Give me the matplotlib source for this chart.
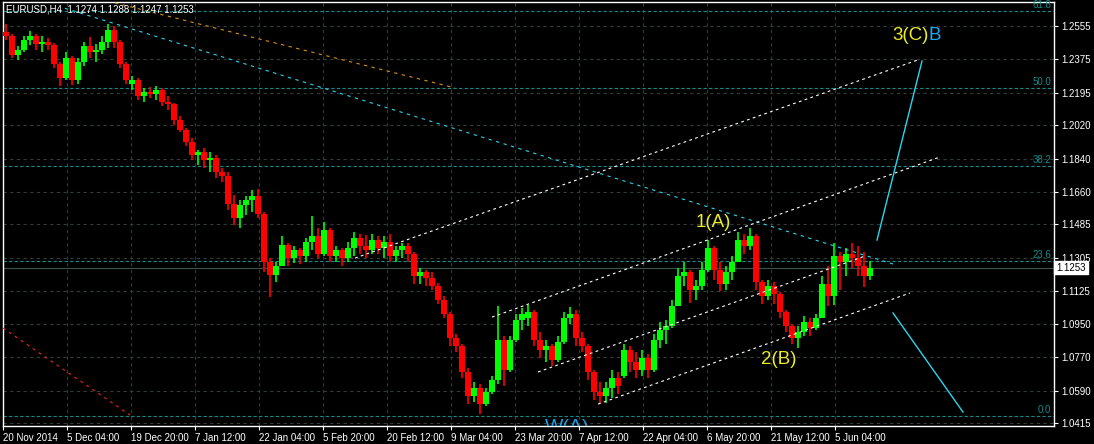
import numpy as np
import matplotlib.pyplot as plt
from matplotlib import transforms

plt.rcParams['font.family'] = ['Liberation Sans', 'DejaVu Sans']

# EURUSD, candles (one candle per ~6 bars)
opens = [1.2523, 1.2501, 1.2399, 1.2426, 1.2479, 1.2501, 1.2458, 1.2469, 1.2452, 1.2350,
         1.2275, 1.2382, 1.2264, 1.2361, 1.2447, 1.2415, 1.2426, 1.2469, 1.2533, 1.2469,
         1.2350, 1.2242, 1.2264, 1.2178, 1.2199, 1.2188, 1.2210, 1.2145, 1.2134, 1.2048,
         1.1994, 1.1930, 1.1860, 1.1876, 1.1833, 1.1843, 1.1768, 1.1746, 1.1595, 1.1520,
         1.1590, 1.1617, 1.1639, 1.1542, 1.1283, 1.1213, 1.1261, 1.1374, 1.1304, 1.1348,
         1.1315, 1.1391, 1.1423, 1.1326, 1.1455, 1.1315, 1.1348, 1.1304, 1.1358, 1.1412,
         1.1369, 1.1348, 1.1401, 1.1358, 1.1391, 1.1315, 1.1348, 1.1369, 1.1326, 1.1207,
         1.1229, 1.1197, 1.1153, 1.1078, 1.1003, 1.0873, 1.0830, 1.0690, 1.0561, 1.0604,
         1.0517, 1.0582, 1.0647, 1.0862, 1.0701, 1.0862, 1.0970, 1.0981, 1.1013, 1.0862,
         1.0809, 1.0830, 1.0755, 1.0852, 1.0981, 1.1003, 1.0873, 1.0830, 1.0690, 1.0582,
         1.0561, 1.0604, 1.0658, 1.0668, 1.0809, 1.0744, 1.0701, 1.0765, 1.0701, 1.0862,
         1.0916, 1.0938, 1.1046, 1.1207, 1.1229, 1.1132, 1.1153, 1.1240, 1.1358, 1.1240,
         1.1164, 1.1229, 1.1283, 1.1401, 1.1369, 1.1423, 1.1175, 1.1100, 1.1153, 1.1110,
         1.1013, 1.0938, 1.0873, 1.0906, 1.0959, 1.0927, 1.0981, 1.1164, 1.1100, 1.1315,
         1.1283, 1.1326, 1.1304, 1.1261, 1.1207]
highs = [1.2566, 1.2512, 1.2447, 1.2501, 1.2528, 1.2512, 1.2501, 1.2490, 1.2463, 1.2361,
         1.2415, 1.2393, 1.2382, 1.2469, 1.2496, 1.2458, 1.2501, 1.2566, 1.2555, 1.2479,
         1.2361, 1.2285, 1.2275, 1.2221, 1.2226, 1.2231, 1.2221, 1.2178, 1.2140, 1.2070,
         1.2005, 1.1951, 1.1887, 1.1897, 1.1876, 1.1860, 1.1789, 1.1768, 1.1644, 1.1617,
         1.1639, 1.1671, 1.1676, 1.1552, 1.1304, 1.1283, 1.1423, 1.1385, 1.1369, 1.1358,
         1.1412, 1.1531, 1.1466, 1.1498, 1.1466, 1.1369, 1.1358, 1.1391, 1.1445, 1.1434,
         1.1428, 1.1434, 1.1423, 1.1423, 1.1434, 1.1369, 1.1385, 1.1385, 1.1337, 1.1250,
         1.1240, 1.1229, 1.1170, 1.1100, 1.1013, 1.0895, 1.0841, 1.0711, 1.0636, 1.0625,
         1.0604, 1.0668, 1.1046, 1.0884, 1.0884, 1.1003, 1.1035, 1.1051, 1.1024, 1.0906,
         1.0862, 1.0841, 1.0884, 1.1013, 1.1040, 1.1024, 1.0906, 1.0841, 1.0701, 1.0636,
         1.0636, 1.0701, 1.0690, 1.0841, 1.0830, 1.0798, 1.0809, 1.0787, 1.0895, 1.0959,
         1.0970, 1.1078, 1.1250, 1.1283, 1.1240, 1.1186, 1.1283, 1.1401, 1.1369, 1.1283,
         1.1261, 1.1315, 1.1445, 1.1434, 1.1466, 1.1434, 1.1186, 1.1186, 1.1175, 1.1121,
         1.1024, 1.0949, 1.0938, 1.0992, 1.0981, 1.1003, 1.1207, 1.1261, 1.1385, 1.1337,
         1.1358, 1.1385, 1.1369, 1.1337, 1.1288]
lows = [1.2479, 1.2382, 1.2372, 1.2415, 1.2452, 1.2426, 1.2415, 1.2426, 1.2328, 1.2231,
        1.2264, 1.2237, 1.2242, 1.2339, 1.2382, 1.2361, 1.2404, 1.2436, 1.2436, 1.2328,
        1.2242, 1.2210, 1.2156, 1.2145, 1.2167, 1.2156, 1.2124, 1.2102, 1.2021, 1.1984,
        1.1908, 1.1833, 1.1806, 1.1789, 1.1768, 1.1736, 1.1714, 1.1563, 1.1482, 1.1466,
        1.1536, 1.1552, 1.1520, 1.1229, 1.1094, 1.1175, 1.1261, 1.1261, 1.1277, 1.1272,
        1.1283, 1.1348, 1.1304, 1.1315, 1.1283, 1.1283, 1.1261, 1.1283, 1.1315, 1.1326,
        1.1304, 1.1326, 1.1326, 1.1304, 1.1283, 1.1283, 1.1304, 1.1283, 1.1164, 1.1164,
        1.1153, 1.1132, 1.1056, 1.0981, 1.0830, 1.0798, 1.0658, 1.0517, 1.0528, 1.0464,
        1.0507, 1.0571, 1.0625, 1.0614, 1.0690, 1.0852, 1.0916, 1.0938, 1.0830, 1.0765,
        1.0744, 1.0722, 1.0744, 1.0841, 1.0949, 1.0830, 1.0798, 1.0647, 1.0539, 1.0517,
        1.0523, 1.0550, 1.0571, 1.0658, 1.0690, 1.0658, 1.0668, 1.0658, 1.0690, 1.0819,
        1.0841, 1.0927, 1.1046, 1.1153, 1.1062, 1.1078, 1.1132, 1.1229, 1.1186, 1.1127,
        1.1132, 1.1186, 1.1283, 1.1326, 1.1348, 1.1132, 1.1056, 1.1078, 1.1056, 1.0981,
        1.0906, 1.0841, 1.0819, 1.0884, 1.0884, 1.0916, 1.0981, 1.1046, 1.1051, 1.1132,
        1.1207, 1.1250, 1.1207, 1.1148, 1.1186]
closes = [1.2501, 1.2399, 1.2426, 1.2479, 1.2501, 1.2458, 1.2469, 1.2452, 1.2350, 1.2275,
          1.2382, 1.2264, 1.2361, 1.2447, 1.2415, 1.2426, 1.2469, 1.2533, 1.2469, 1.2350,
          1.2264, 1.2264, 1.2178, 1.2199, 1.2188, 1.2210, 1.2145, 1.2134, 1.2048, 1.1994,
          1.1930, 1.1860, 1.1876, 1.1833, 1.1843, 1.1768, 1.1746, 1.1595, 1.1520, 1.1590,
          1.1617, 1.1639, 1.1542, 1.1283, 1.1213, 1.1261, 1.1374, 1.1304, 1.1348, 1.1315,
          1.1391, 1.1423, 1.1326, 1.1455, 1.1315, 1.1348, 1.1304, 1.1358, 1.1412, 1.1369,
          1.1348, 1.1401, 1.1358, 1.1391, 1.1315, 1.1348, 1.1369, 1.1326, 1.1207, 1.1229,
          1.1197, 1.1153, 1.1078, 1.1003, 1.0873, 1.0830, 1.0690, 1.0561, 1.0604, 1.0517,
          1.0582, 1.0647, 1.0862, 1.0701, 1.0862, 1.0970, 1.1003, 1.1013, 1.0862, 1.0809,
          1.0830, 1.0755, 1.0852, 1.0981, 1.1003, 1.0873, 1.0830, 1.0690, 1.0582, 1.0561,
          1.0604, 1.0658, 1.0614, 1.0809, 1.0744, 1.0701, 1.0765, 1.0701, 1.0862, 1.0916,
          1.0938, 1.1046, 1.1207, 1.1229, 1.1132, 1.1153, 1.1240, 1.1358, 1.1240, 1.1164,
          1.1229, 1.1283, 1.1401, 1.1369, 1.1423, 1.1175, 1.1100, 1.1153, 1.1110, 1.1013,
          1.0938, 1.0873, 1.0906, 1.0959, 1.0927, 1.0981, 1.1164, 1.1100, 1.1315, 1.1283,
          1.1326, 1.1304, 1.1261, 1.1207, 1.1253]

date_labels = ['20 Nov 2014', '5 Dec 04:00', '19 Dec 20:00', '7 Jan 12:00', '22 Jan 04:00',
               '5 Feb 20:00', '20 Feb 12:00', '9 Mar 04:00', '23 Mar 20:00', '7 Apr 12:00',
               '22 Apr 04:00', '6 May 20:00', '21 May 12:00', '5 Jun 04:00']
price_labels = ['1.0415', '1.0590', '1.0770', '1.0950', '1.1125', '1.1305', '1.1485',
                '1.1660', '1.1840', '1.2020', '1.2195', '1.2375', '1.2555']

fib_names = ['0.0', '23.6', '38.2', '50.0', '61.8']
fib_prices = [1.0453, 1.1288, 1.1802, 1.2221, 1.2636]
last_price = 1.1253

# hand-drawn lines: (bar, price) end points
cyan_fan = [(62, 1.2650), (890, 1.1272)]
orange_fan = [(112, 1.2679), (452, 1.2221)]
red_line = [(0, 1.0927), (127, 1.0458)]
chan_top = [(352, 1.1304), (915, 1.2372)]
chan_2 = [(489, 1.0986), (937, 1.1849)]
chan_3 = [(535, 1.0690), (862, 1.1315)]
chan_low = [(595, 1.0517), (907, 1.1116)]
wave_up = [(874, 1.1401), (919, 1.2366)]
wave_down = [(890, 1.1008), (960, 1.0474)]

bars_per_candle = 6
W, H = 1094, 444

fig = plt.figure(figsize=(W / 100, H / 100), dpi=100, facecolor='black')
ax = fig.add_axes([3 / W, 18 / H, 1051 / W, 424 / H])
ax.set_facecolor('black')
ax.set_xlim(0, 1051)
ax.set_ylim(1.0399, 1.2684)
for s in ax.spines.values():
    s.set_color('white')
    s.set_linewidth(1)

# grid
ax.set_xticks([64 * i for i in range(len(date_labels))])
ax.set_xticklabels(date_labels)
ax.set_yticks([float(p) for p in price_labels])
ax.set_yticklabels(price_labels)
ax.yaxis.tick_right()
ax.tick_params(colors='white', labelsize=7, length=3, width=0.8, pad=2)
for lab in ax.get_xticklabels():
    lab.set_ha('left')
ax.grid(True, color='#323b37', linestyle=(0, (3, 3)), linewidth=0.8)
ax.set_axisbelow(True)

# fibo levels
for name, p in zip(fib_names, fib_prices):
    ax.axhline(p, color='#148a8a', linestyle=(0, (3, 2)), linewidth=0.8, zorder=1)
    ax.text(1048, p + 0.0004, name, ha='right', va='bottom', color='#148a8a', fontsize=7)

ax.axhline(last_price, color='#3a524c', linewidth=0.8, zorder=1)

# candles
x = np.arange(len(closes)) * bars_per_candle + 3
o, h, l, c = map(np.array, (opens, highs, lows, closes))
cols = np.where(c >= o, '#00ff00', '#ff0000')
ax.vlines(x, l, h, colors=cols, linewidth=1.2, zorder=3)
ax.bar(x, np.maximum(np.abs(c - o), 0.0003), width=5.4, bottom=np.minimum(o, c),
       color=cols, linewidth=0, zorder=3)

# lines
def seg(pts, color, ls, lw=0.8):
    (x0, y0), (x1, y1) = pts
    ax.plot([x0, x1], [y0, y1], color=color, linestyle=ls, linewidth=lw, zorder=4)

seg(cyan_fan, '#2ad6ee', (0, (3, 4)))
seg(orange_fan, '#d8900c', (0, (3, 4)))
seg(red_line, '#ff2020', (0, (2.5, 4)))
for ch in (chan_top, chan_2, chan_3, chan_low):
    seg(ch, 'white', (0, (2.5, 3)))
seg(wave_up, '#2ad6ee', '-', 1)
seg(wave_down, '#2ad6ee', '-', 1)

# wave labels
yellow = '#ecec26'
ax.text(710, 1.1498, '1(A)', color=yellow, fontsize=13.5, ha='center', va='center', zorder=5)
ax.text(776, 1.0760, '2(B)', color=yellow, fontsize=13.5, ha='center', va='center', zorder=5)
t3 = ax.text(889, 1.2506, '3(C)', color=yellow, fontsize=13.5, ha='left', va='center', zorder=5)
ax.annotate('B', xy=(1, 0), xycoords=t3, va='bottom', ha='left', color='#1aa8f0',
            fontsize=13.5, zorder=5)
ax.text(542, 1.0437, 'W(A)', color='#1a9ee4', fontsize=14, ha='left', va='top',
        clip_on=True, zorder=5)

# header and price tag
fig.text(6 / W, 1 - 10 / H, 'EURUSD,H4  1.1274 1.1288 1.1247 1.1253', color='white',
         fontsize=7, va='center', ha='left')
trans = transforms.blended_transform_factory(ax.transAxes, ax.transData)
ax.text(1.002, last_price, '1.1253', transform=trans, ha='left', va='center', fontsize=7,
        color='black', clip_on=False,
        bbox=dict(boxstyle='square,pad=0.2', fc='white', ec='white'))

fig.savefig('out.png', dpi=100, facecolor='black')
